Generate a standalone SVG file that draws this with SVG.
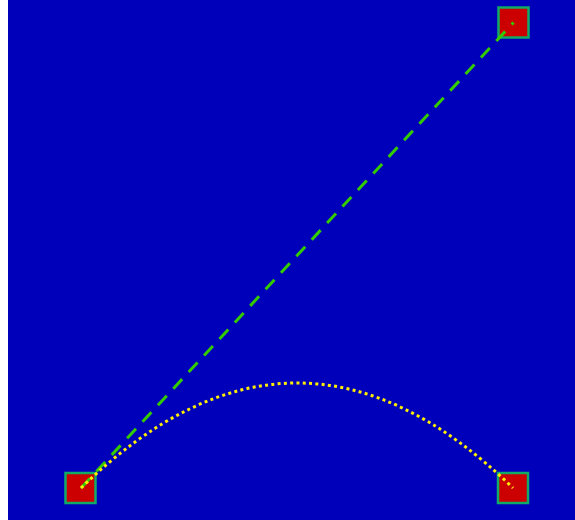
<svg xmlns="http://www.w3.org/2000/svg" width="575" height="520" viewBox="0 0 575 520">
<style>
.node{fill:#cc0000;stroke:#11aa66;stroke-width:2.5}
.dash{fill:none;stroke:#33cc00;stroke-width:3;stroke-dasharray:13 9.6}
.dot{fill:none;stroke:#ffee00;stroke-width:3;stroke-dasharray:3 3.3}
</style>
<rect x="0" y="0" width="575" height="520" fill="#ffffff"/>
<rect x="8" y="0" width="567" height="520" fill="#0000bb"/>
<g id="node-top-right"><rect class="node" x="498.5" y="7.5" width="30" height="30"/></g>
<g id="node-bottom-left"><rect class="node" x="65.5" y="473" width="30" height="30"/></g>
<g id="node-bottom-right"><rect class="node" x="498" y="473" width="30" height="30"/></g>
<g id="connectors">
<path class="dash" d="M81,488 L513.5,22.5"/>
<path class="dot" d="M81,488 Q297,278 513,488"/>
</g>
</svg>
